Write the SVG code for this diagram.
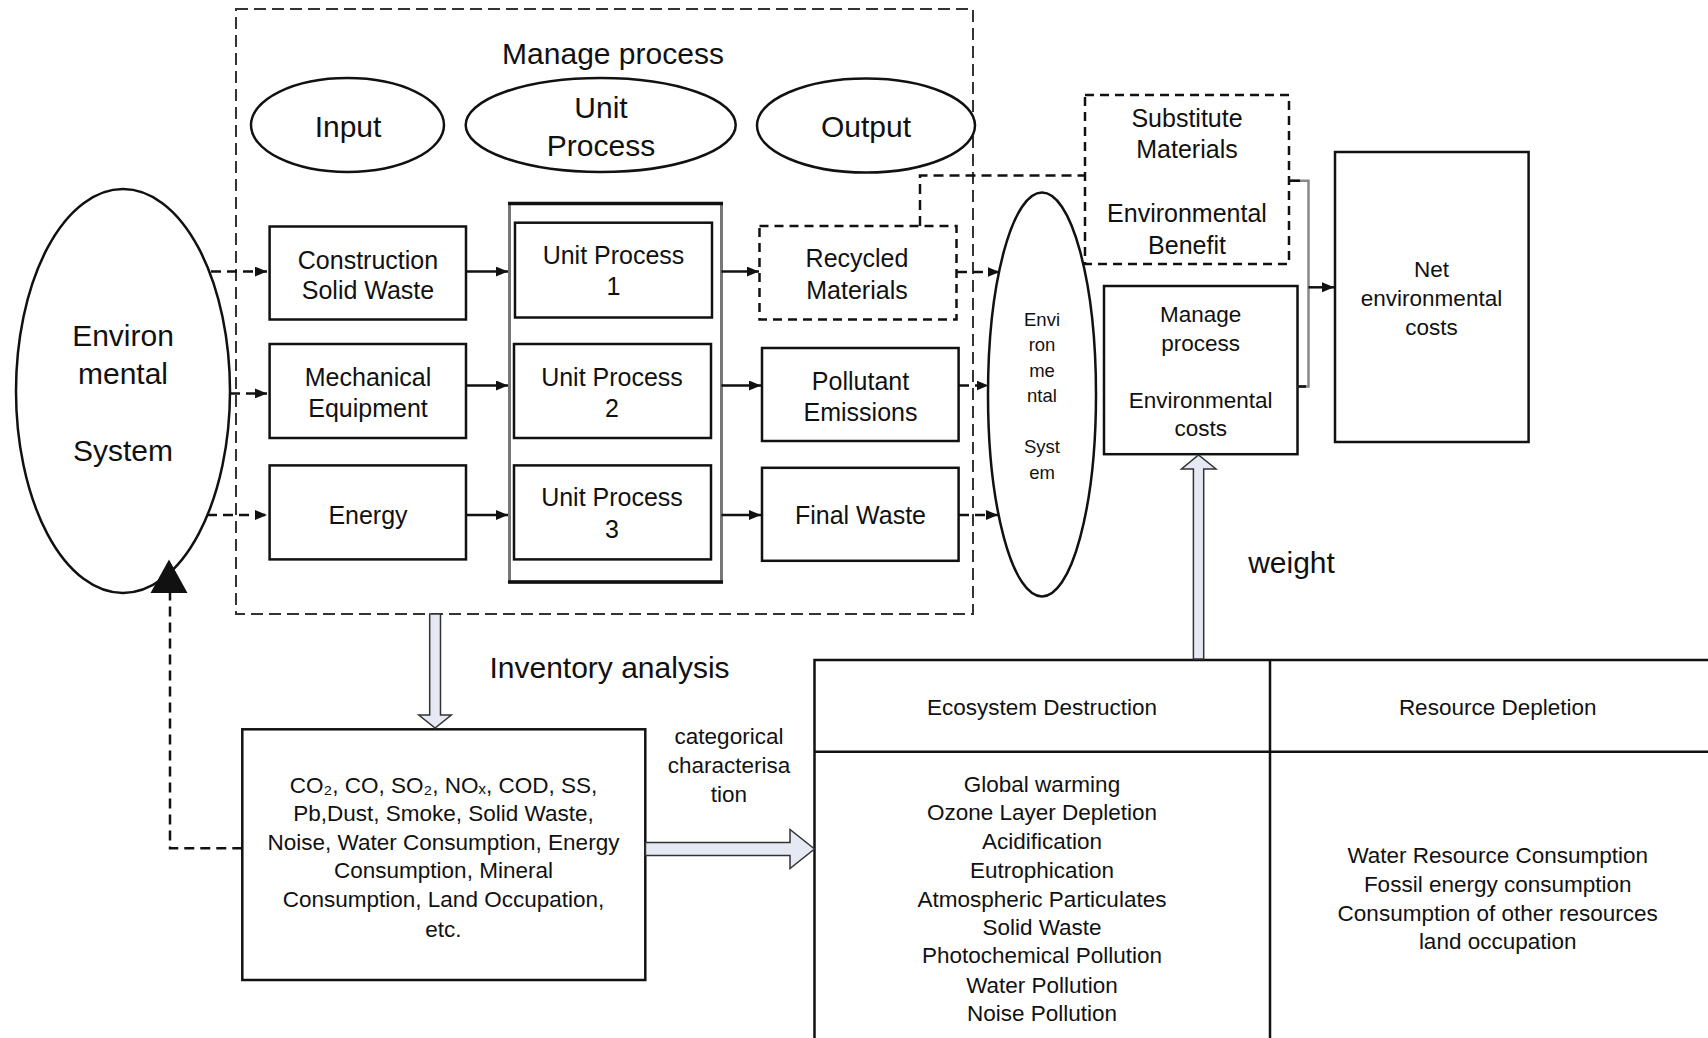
<svg xmlns="http://www.w3.org/2000/svg" width="1708" height="1038" viewBox="0 0 1708 1038">
<style>
text{font-family:"Liberation Sans",Arial,sans-serif;fill:#111;text-anchor:middle}
.box{fill:#fff;stroke:#111;stroke-width:2.5}
.ell{fill:#fff;stroke:#111;stroke-width:2.5}
.dbox{fill:#fff;stroke:#111;stroke-width:2.5;stroke-dasharray:9 6}
.mgr{fill:none;stroke:#333;stroke-width:2;stroke-dasharray:12 6}
.ln{fill:none;stroke:#111;stroke-width:2.5}
.dl{fill:none;stroke:#111;stroke-width:2.5;stroke-dasharray:10 6}
.hol{fill:#e6e9f3;stroke:#333;stroke-width:1.5}
.t30{font-size:30px}
.t25{font-size:25px}
.t22{font-size:22.5px}
</style>
<defs>
<marker id="ah" markerUnits="userSpaceOnUse" markerWidth="12" markerHeight="10" refX="12" refY="5" orient="auto">
<path d="M0,0 L12,5 L0,10 Z" fill="#111"/>
</marker>
</defs>
<rect width="1708" height="1038" fill="#fff"/>

<g id="manage-process-frame">
<rect class="mgr" x="236" y="9" width="737" height="605"/>
<text class="t30" x="613" y="64">Manage process</text>
</g>

<g id="input-ellipse"><ellipse class="ell" cx="347.5" cy="125" rx="96.5" ry="47"/><text class="t30" x="348" y="137">Input</text></g>
<g id="unit-process-ellipse"><ellipse class="ell" cx="600.7" cy="125" rx="135" ry="47"/><text class="t30" x="601" y="118">Unit</text><text class="t30" x="601" y="156">Process</text></g>
<g id="output-ellipse"><ellipse class="ell" cx="866" cy="125.5" rx="109" ry="47"/><text class="t30" x="866" y="137">Output</text></g>

<g id="env-system-left"><ellipse class="ell" cx="123" cy="391" rx="107" ry="202"/>
<text class="t30" x="123" y="346">Environ</text><text class="t30" x="123" y="384">mental</text><text class="t30" x="123" y="461">System</text></g>

<g id="construction"><rect class="box" x="269.6" y="226.5" width="196.4" height="93"/><text class="t25" x="368" y="269">Construction</text><text class="t25" x="368" y="299">Solid Waste</text></g>
<g id="mechanical"><rect class="box" x="269.6" y="344" width="196.4" height="94"/><text class="t25" x="368" y="385.5">Mechanical</text><text class="t25" x="368" y="417">Equipment</text></g>
<g id="energy"><rect class="box" x="269.6" y="465.4" width="196.4" height="94"/><text class="t25" x="368" y="524">Energy</text></g>

<g id="unit-process-group">
<rect x="509.5" y="203.5" width="212" height="378.5" fill="#fff" stroke="#777" stroke-width="3"/>
<line x1="508" y1="203.5" x2="723" y2="203.5" stroke="#111" stroke-width="3.5"/>
<line x1="508" y1="582" x2="723" y2="582" stroke="#111" stroke-width="3.5"/>
</g>
<g id="up1"><rect class="box" x="515" y="222.7" width="197" height="94.8"/><text class="t25" x="613.5" y="264">Unit Process</text><text class="t25" x="613.5" y="294.5">1</text></g>
<g id="up2"><rect class="box" x="514" y="344" width="197" height="94"/><text class="t25" x="612" y="385.5">Unit Process</text><text class="t25" x="612" y="417">2</text></g>
<g id="up3"><rect class="box" x="514" y="465.4" width="197" height="94"/><text class="t25" x="612" y="506">Unit Process</text><text class="t25" x="612" y="538">3</text></g>

<g id="recycled"><rect class="dbox" x="759.5" y="226" width="197" height="93.5"/><text class="t25" x="857" y="267">Recycled</text><text class="t25" x="857" y="299">Materials</text></g>
<g id="pollutant"><rect class="box" x="762" y="348" width="196.6" height="93"/><text class="t25" x="860.5" y="389.5">Pollutant</text><text class="t25" x="860.5" y="421">Emissions</text></g>
<g id="final-waste"><rect class="box" x="762" y="467.8" width="196.6" height="93"/><text class="t25" x="860.5" y="524">Final Waste</text></g>

<g id="env-system-right"><ellipse class="ell" cx="1042" cy="394.5" rx="54" ry="202"/>
<g style="font-size:18.5px"><text x="1042" y="325.7">Envi</text><text x="1042" y="351.4">ron</text><text x="1042" y="376.6">me</text><text x="1042" y="402">ntal</text><text x="1042" y="453.4">Syst</text><text x="1042" y="479">em</text></g></g>

<g id="substitute"><rect class="dbox" x="1085" y="95" width="204" height="169"/>
<text class="t25" x="1187" y="126.5">Substitute</text><text class="t25" x="1187" y="157.7">Materials</text><text class="t25" x="1187" y="222">Environmental</text><text class="t25" x="1187" y="253.7">Benefit</text></g>

<g id="manage-costs"><rect class="box" x="1104" y="286" width="193.5" height="168.2"/>
<text class="t22" x="1200.7" y="321.8">Manage</text><text class="t22" x="1200.7" y="350.6">process</text><text class="t22" x="1200.7" y="408">Environmental</text><text class="t22" x="1200.7" y="436.4">costs</text></g>

<g id="net-costs"><rect class="box" x="1335" y="152" width="193.6" height="290"/>
<text class="t22" x="1431.5" y="276.7">Net</text><text class="t22" x="1431.5" y="306">environmental</text><text class="t22" x="1431.5" y="334.8">costs</text></g>

<g id="inventory"><rect class="box" x="242.3" y="729.3" width="403" height="250.7"/>
<g class="t22"><text x="443.5" y="793.3">CO₂, CO, SO₂, NOₓ, COD, SS,</text><text x="443.5" y="820.7">Pb,Dust, Smoke, Solid Waste,</text><text x="443.5" y="850">Noise, Water Consumption, Energy</text><text x="443.5" y="878.3">Consumption, Mineral</text><text x="443.5" y="907.3">Consumption, Land Occupation,</text><text x="443.5" y="936.7">etc.</text></g></g>

<g id="impact-table">
<path class="ln" d="M814.5,1040 V660 H1710 M814.5,751.7 H1710 M1270,660 V1040"/>
<g class="t22"><text x="1042" y="715">Ecosystem Destruction</text><text x="1497.7" y="715">Resource Depletion</text>
<text x="1042" y="791.7">Global warming</text><text x="1042" y="820">Ozone Layer Depletion</text><text x="1042" y="849">Acidification</text><text x="1042" y="877.7">Eutrophication</text><text x="1042" y="906.7">Atmospheric Particulates</text><text x="1042" y="935">Solid Waste</text><text x="1042" y="963.3">Photochemical Pollution</text><text x="1042" y="992.7">Water Pollution</text><text x="1042" y="1020.7">Noise Pollution</text>
<text x="1497.7" y="862.7">Water Resource Consumption</text><text x="1497.7" y="891.7">Fossil energy consumption</text><text x="1497.7" y="920.7">Consumption of other resources</text><text x="1497.7" y="949.3">land occupation</text></g>
</g>

<g id="labels">
<text class="t30" x="609.5" y="678.3">Inventory analysis</text>
<g class="t22"><text x="729" y="744">categorical</text><text x="729" y="772.7">characterisa</text><text x="729" y="801.7">tion</text></g>
<text class="t30" x="1291.5" y="573">weight</text>
</g>

<g id="connectors">
<path class="dl" d="M211,271.6 H267" marker-end="url(#ah)"/>
<path class="dl" d="M230,393.4 H267" marker-end="url(#ah)"/>
<path class="dl" d="M207,515 H267" marker-end="url(#ah)"/>
<path class="ln" d="M466,271.6 H508" marker-end="url(#ah)" stroke-width="3"/>
<path class="ln" d="M466,385.5 H508" marker-end="url(#ah)"/>
<path class="ln" d="M466,515 H508" marker-end="url(#ah)"/>
<path class="ln" d="M721.5,271.6 H759" marker-end="url(#ah)" stroke-width="3"/>
<path class="ln" d="M721.5,385.5 H761" marker-end="url(#ah)"/>
<path class="ln" d="M721.5,515 H761" marker-end="url(#ah)"/>
<path class="dl" d="M957,272 H999.5" marker-end="url(#ah)"/>
<path class="dl" d="M959,385.5 H988.5" marker-end="url(#ah)"/>
<path class="dl" d="M959,515 H998" marker-end="url(#ah)"/>
<path class="dl" d="M920,226 V175.5 H1085"/>
<path d="M1289,180.7 H1308.5 V386.5 H1297.5" fill="none" stroke="#888" stroke-width="2.5"/>
<path d="M1289,180.7 H1300 M1297.5,386.5 H1306" fill="none" stroke="#111" stroke-width="2.5"/>
<path class="ln" d="M1308.5,287.3 H1334" marker-end="url(#ah)"/>
<path class="hol" d="M429.7,614 H440.5 V715 H451.3 L435.1,728 L418.8,715 H429.7 Z"/>
<path class="hol" d="M645.5,842.5 H790 V829.5 L814.5,849 L790,868.5 V855.5 H645.5 Z"/>
<path class="hol" d="M1193.4,659 V469 H1181.5 L1198.5,455 L1216,469 H1203.7 V659 Z"/>
<path class="dl" d="M242.3,848.3 H170 V593"/>
<path d="M169,559.5 L187.5,593 L150.5,593 Z" fill="#111"/>
</g>
</svg>
